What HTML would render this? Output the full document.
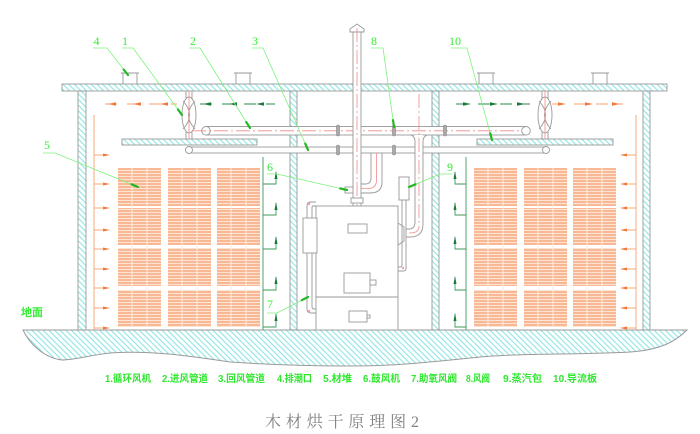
<!DOCTYPE html>
<html><head><meta charset="utf-8"><style>
html,body{margin:0;padding:0;background:#fff;}
svg{display:block;}
</style></head><body>
<svg width="700" height="434" viewBox="0 0 700 434" xmlns="http://www.w3.org/2000/svg">
<defs>
<pattern id="h" width="4" height="4" patternUnits="userSpaceOnUse" patternTransform="rotate(-45)">
<line x1="1" y1="0" x2="1" y2="4" stroke="#8ee4e4" stroke-width="1.1"/></pattern>
<pattern id="w" width="10" height="3" patternUnits="userSpaceOnUse">
<rect width="10" height="3" fill="#fde3d4"/><rect width="10" height="2" fill="#f9b894"/></pattern>
</defs>
<rect width="700" height="434" fill="#fff"/>

<!-- ground -->
<path d="M23,330 L687,330 C675,342 660,350 630,352 C580,355 520,353 480,357 C440,361 400,366 350,366 C300,366 260,364 230,362 C190,356 150,350 110,353 C90,355 75,360 62,360 C45,358 30,345 23,330 Z" fill="url(#h)" stroke="#9a9a9a" stroke-width="1"/>

<!-- roof -->
<rect x="62" y="84" width="605" height="7" fill="url(#h)" stroke="#999" stroke-width="0.9"/>
<!-- vents -->
<g fill="#fff" stroke="#999" stroke-width="0.9">
<path d="M123,84 V73 M137,84 V73 M121,73 H139"/>
<path d="M236,84 V73 M250,84 V73 M234,73 H252"/>
<path d="M479,84 V73 M493,84 V73 M477,73 H495"/>
<path d="M593,84 V73 M607,84 V73 M591,73 H609"/>
</g>

<!-- walls -->
<g fill="url(#h)" stroke="#999" stroke-width="0.9">
<rect x="78" y="91" width="8" height="239"/>
<rect x="290" y="91" width="7" height="239"/>
<rect x="432" y="91" width="7" height="239"/>
<rect x="643" y="91" width="7" height="239"/>
</g>

<!-- lumber stacks -->
<g fill="url(#w)">
<rect x="118" y="168" width="43" height="38"/><rect x="168" y="168" width="43" height="38"/><rect x="217" y="168" width="43" height="38"/>
<rect x="118" y="208" width="43" height="37"/><rect x="168" y="208" width="43" height="37"/><rect x="217" y="208" width="43" height="37"/>
<rect x="118" y="248" width="43" height="38"/><rect x="168" y="248" width="43" height="38"/><rect x="217" y="248" width="43" height="38"/>
<rect x="118" y="290" width="43" height="37"/><rect x="168" y="290" width="43" height="37"/><rect x="217" y="290" width="43" height="37"/>
<rect x="474" y="168" width="43" height="38"/><rect x="524" y="168" width="43" height="38"/><rect x="573" y="168" width="43" height="38"/>
<rect x="474" y="208" width="43" height="37"/><rect x="524" y="208" width="43" height="37"/><rect x="573" y="208" width="43" height="37"/>
<rect x="474" y="248" width="43" height="38"/><rect x="524" y="248" width="43" height="38"/><rect x="573" y="248" width="43" height="38"/>
<rect x="474" y="290" width="43" height="37"/><rect x="524" y="290" width="43" height="37"/><rect x="573" y="290" width="43" height="37"/>
</g>
<g stroke="#fdebe1" stroke-width="1">
<path d="M132,168V327 M147,168V327 M182,168V327 M197,168V327 M231,168V327 M246,168V327"/>
<path d="M488,168V327 M503,168V327 M538,168V327 M553,168V327 M587,168V327 M602,168V327"/>
</g>

<!-- orange side flow -->
<g stroke="#f7a878" stroke-width="1" fill="none">
<path d="M94,115 V330 M636,115 V330"/>
<path d="M94,155H106 M94,184H106 M94,208H106 M94,230H106 M94,249H106 M94,269H106 M94,288H106 M94,308H106 M94,328H106"/>
<path d="M636,155H624 M636,184H624 M636,208H624 M636,230H624 M636,249H624 M636,269H624 M636,288H624 M636,308H624 M636,328H624"/>
</g>
<g fill="#f4793a">
<polygon points="110,155 103,153.5 103,156.5"/><polygon points="110,184 103,182.5 103,185.5"/><polygon points="110,208 103,206.5 103,209.5"/><polygon points="110,230 103,228.5 103,231.5"/><polygon points="110,249 103,247.5 103,250.5"/><polygon points="110,269 103,267.5 103,270.5"/><polygon points="110,288 103,286.5 103,289.5"/><polygon points="110,308 103,306.5 103,309.5"/><polygon points="110,328 103,326.5 103,329.5"/>
<polygon points="620,155 627,153.5 627,156.5"/><polygon points="620,184 627,182.5 627,185.5"/><polygon points="620,208 627,206.5 627,209.5"/><polygon points="620,230 627,228.5 627,231.5"/><polygon points="620,249 627,247.5 627,250.5"/><polygon points="620,269 627,267.5 627,270.5"/><polygon points="620,288 627,286.5 627,289.5"/><polygon points="620,308 627,306.5 627,309.5"/><polygon points="620,328 627,326.5 627,329.5"/>
</g>

<!-- top dashed flow arrows -->
<g stroke-width="1" fill="none">
<path d="M105,104H177 M552,104H623" stroke="#f7a070" stroke-dasharray="12,10"/>
<path d="M200,104H275 M456,104H530" stroke="#2a8a4a" stroke-dasharray="12,10"/>
</g>
<g fill="#f4793a">
<polygon points="108,104 116,102.3 116,105.7"/><polygon points="133,104 141,102.3 141,105.7"/><polygon points="160,104 168,102.3 168,105.7"/>
<polygon points="566,104 558,102.3 558,105.7"/><polygon points="593,104 585,102.3 585,105.7"/><polygon points="620,104 612,102.3 612,105.7"/>
</g>
<g fill="#1e7a3c">
<polygon points="203,104 211,102.3 211,105.7"/><polygon points="229,104 237,102.3 237,105.7"/><polygon points="256,104 264,102.3 264,105.7"/>
<polygon points="471,104 463,102.3 463,105.7"/><polygon points="498,104 490,102.3 490,105.7"/><polygon points="525,104 517,102.3 517,105.7"/>
</g>

<!-- green return lines and brackets -->
<g stroke="#3a9a5a" stroke-width="0.9" fill="none">
<path d="M263,157V330 M263,184H276V172 M263,215H276V203 M263,249H276V237 M263,290H276V277 M263,327H276V314"/>
<path d="M466,157V330 M466,184H455V172 M466,215H455V203 M466,249H455V237 M466,290H455V277 M466,327H455V314"/>
</g>
<g fill="#1a7a38">
<polygon points="276,171 274.5,179 277.5,179"/><polygon points="276,202 274.5,210 277.5,210"/><polygon points="276,236 274.5,244 277.5,244"/><polygon points="276,276 274.5,284 277.5,284"/><polygon points="276,313 274.5,321 277.5,321"/>
<polygon points="455,171 453.5,179 456.5,179"/><polygon points="455,202 453.5,210 456.5,210"/><polygon points="455,236 453.5,244 456.5,244"/><polygon points="455,276 453.5,284 456.5,284"/><polygon points="455,313 453.5,321 456.5,321"/>
</g>

<!-- deflectors -->
<rect x="122" y="139" width="135" height="6" fill="url(#h)" stroke="#999" stroke-width="0.9"/>
<rect x="477" y="139" width="136" height="6" fill="url(#h)" stroke="#999" stroke-width="0.9"/>

<!-- fans -->
<g stroke="#999" stroke-width="0.9" fill="#fff">
<rect x="186" y="91" width="6" height="7"/><rect x="186" y="132" width="6" height="7"/>
<ellipse cx="189" cy="115" rx="7" ry="18"/>
<path d="M183,101 Q196,115 183,129 M195,101 Q182,115 195,129" fill="none"/>
<rect x="542" y="91" width="6" height="7"/><rect x="542" y="132" width="6" height="7"/>
<ellipse cx="545" cy="115" rx="7" ry="18"/>
<path d="M539,101 Q552,115 539,129 M551,101 Q538,115 551,129" fill="none"/>
</g>
<path d="M189,91V139 M545,91V139" stroke="#f08a8a" stroke-width="0.8"/>

<!-- return duct -->
<rect x="189" y="147" width="357" height="6" fill="#fff" stroke="#999" stroke-width="0.9"/>
<circle cx="189" cy="150" r="3.5" fill="#fff" stroke="#999" stroke-width="0.9"/>
<circle cx="546" cy="150" r="3.5" fill="#fff" stroke="#999" stroke-width="0.9"/>
<!-- supply duct -->
<rect x="206" y="126.5" width="320" height="8.5" fill="#fff" stroke="#999" stroke-width="0.9"/>
<circle cx="206" cy="130.8" r="4.3" fill="#fff" stroke="#999" stroke-width="0.9"/>
<circle cx="526" cy="130.8" r="4.3" fill="#fff" stroke="#999" stroke-width="0.9"/>
<path d="M192,130.8H522" stroke="#f08a8a" stroke-width="0.8" stroke-dasharray="14,3,2,3"/>
<!-- clamps -->
<g fill="#aaa" stroke="#888" stroke-width="0.6">
<rect x="336.5" y="125" width="3" height="11" rx="1.5"/><rect x="392.5" y="125" width="3" height="11" rx="1.5"/><rect x="443.5" y="125" width="3" height="11" rx="1.5"/>
<rect x="336.5" y="145" width="3" height="10" rx="1.5"/><rect x="392.5" y="145" width="3" height="10" rx="1.5"/>
</g>

<!-- elbow pipe from return duct to chimney -->
<g fill="none" stroke="#999" stroke-width="0.9">
<path d="M371,153 V178 Q371,184 365,184 H361"/>
<path d="M382,153 V182 Q382,193 370,193 H361"/>
</g>
<path d="M376.5,153 V180 Q376.5,188.5 368,188.5 H361" fill="none" stroke="#f08a8a" stroke-width="0.8"/>

<!-- T pipe down at 419 -->
<rect x="415" y="135" width="8" height="88" fill="#fff" stroke="none"/>
<g fill="none" stroke="#999" stroke-width="0.9">
<path d="M411,135 Q415,137 415,141 V222 Q415,229 409,229 H406"/>
<path d="M427,135 Q423,137 423,141 V224 Q423,237 410,237 H406"/>
</g>
<path d="M419,94 V226 Q419,233 410,233 H406" fill="none" stroke="#f08a8a" stroke-width="0.8" stroke-dasharray="14,3,2,3"/>

<!-- chimney -->
<rect x="353" y="31" width="8" height="176" fill="#fff" stroke="#999" stroke-width="0.9"/>
<polygon points="350,32 350,29 357,24 364,29 364,32" fill="#fff" stroke="#999" stroke-width="0.9"/>
<path d="M357,28 V212" stroke="#f08a8a" stroke-width="0.8" stroke-dasharray="14,3,2,3"/>
<!-- blower and collar -->
<rect x="345" y="187" width="8" height="6" fill="#fff" stroke="#999" stroke-width="0.9"/>
<rect x="351" y="198" width="12" height="5" fill="#fff" stroke="#999" stroke-width="0.9"/>

<!-- boiler -->
<g fill="#fff" stroke="#999" stroke-width="0.9">
<rect x="316" y="206" width="82" height="124"/>
<path d="M316,297H398" fill="none"/>
<rect x="348" y="224" width="19" height="9"/>
<rect x="344" y="273" width="26" height="20"/><rect x="370" y="280" width="6" height="5"/>
<rect x="349" y="311" width="18" height="11"/><rect x="367" y="315" width="3" height="3"/>
<!-- left pipe -->
<path d="M316,202 H311 Q307,202 307,206 V309 Q307,313 311,313 H316" fill="none"/>
<path d="M316,206 H313 Q312,206 312,208 V307 Q312,309 314,309 H316" fill="none"/>
<rect x="303" y="218" width="14" height="35"/>
<!-- right side -->
<polygon points="398,223 404,227 404,241 398,245"/>
<path d="M402,200 V265 Q402,267 400,267 H398 M406,200 V269 Q406,271 403,271 H398" fill="none"/>
<rect x="399" y="177" width="10" height="23"/>
</g>
<g fill="#f0a0a0">
<circle cx="309" cy="204" r="1.2"/><circle cx="309" cy="311" r="1.2"/><circle cx="403" cy="268" r="1.2"/>
</g>

<!-- leaders -->
<g stroke="#7cf27c" stroke-width="0.8" fill="none">
<path d="M93,48H107L128,75"/>
<path d="M122,48H133L182,115"/>
<path d="M189,48H200L250,128"/>
<path d="M252,48H263L308,150"/>
<path d="M371,48H383L394,127"/>
<path d="M451,48H467L492,140"/>
<path d="M43,153H55L138,187"/>
<path d="M267,174H277L347,190"/>
<path d="M267,313H277L308,297"/>
<path d="M452,174H440L409,187"/>
</g>
<g stroke="#22b822" stroke-width="2.2" stroke-linecap="round">
<path d="M123.7,69.5L128,75"/><path d="M177.9,109.4L182,115"/><path d="M246.3,122.1L250,128"/><path d="M305.2,143.6L308,150"/>
<path d="M393,120.1L394,127"/><path d="M490.2,133.2L492,140"/><path d="M131.5,184.3L138,187"/><path d="M340.2,188.4L347,190"/>
<path d="M301.8,300.2L308,297"/><path d="M415.5,184.3L409,187"/>
</g>
<g font-family="'Liberation Serif',serif" font-size="12" fill="#33ee33">
<text x="93.5" y="45">4</text>
<text x="122" y="45">1</text>
<text x="190" y="45">2</text>
<text x="252" y="45">3</text>
<text x="371" y="45">8</text>
<text x="449" y="45">10</text>
<text x="44" y="149">5</text>
<text x="267" y="171">6</text>
<text x="267" y="308">7</text>
<text x="447" y="171">9</text>
</g>
<text x="21" y="316" font-family="'Liberation Sans','Noto Sans CJK SC',sans-serif" font-size="11" font-weight="bold" fill="#33ee33">地面</text>

<!-- legend -->
<g font-family="'Liberation Sans','Noto Sans CJK SC',sans-serif" font-size="10" font-weight="bold" fill="#2ee82e">
<text x="105" y="382" textLength="46" lengthAdjust="spacingAndGlyphs">1.循环风机</text>
<text x="162" y="382" textLength="46" lengthAdjust="spacingAndGlyphs">2.进风管道</text>
<text x="218" y="382" textLength="47" lengthAdjust="spacingAndGlyphs">3.回风管道</text>
<text x="277" y="382" textLength="35" lengthAdjust="spacingAndGlyphs">4.排潮口</text>
<text x="323" y="382" textLength="29" lengthAdjust="spacingAndGlyphs">5.材堆</text>
<text x="363" y="382" textLength="37" lengthAdjust="spacingAndGlyphs">6.鼓风机</text>
<text x="411" y="382" textLength="46" lengthAdjust="spacingAndGlyphs">7.助氧风阀</text>
<text x="466" y="382" textLength="24" lengthAdjust="spacingAndGlyphs">8.风阀</text>
<text x="503" y="382" textLength="39" lengthAdjust="spacingAndGlyphs">9.蒸汽包</text>
<text x="553" y="382" textLength="44" lengthAdjust="spacingAndGlyphs">10.导流板</text>
</g>

<!-- title -->
<text x="265" y="427" font-family="'Liberation Serif','Noto Serif CJK SC',serif" font-size="16" fill="#808080" textLength="154" lengthAdjust="spacing">木材烘干原理图2</text>
</svg>
</body></html>
